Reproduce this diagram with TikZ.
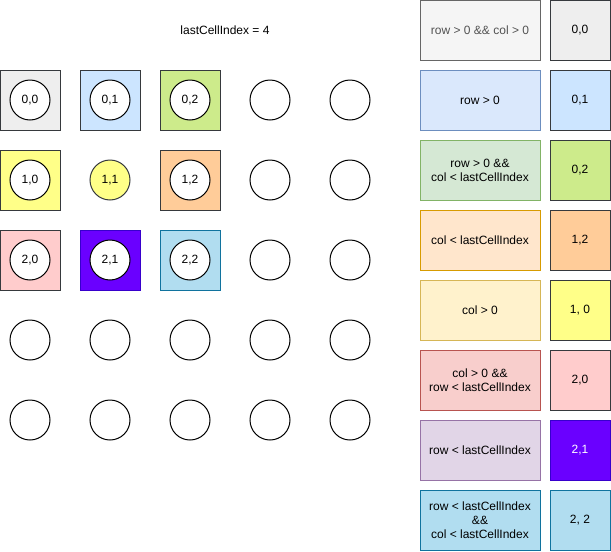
\documentclass[tikz,border=0pt]{standalone}
\usepackage{fontspec}
\setmainfont{Liberation Sans}
\usepackage{tikz}
\usetikzlibrary{positioning}
\usepackage{xcolor}

\definecolor{cellgray}{HTML}{EEEEEE}
\definecolor{cellblue}{HTML}{CCE5FF}
\definecolor{cellgreen}{HTML}{CDEB8B}
\definecolor{cellorange}{HTML}{FFCC99}
\definecolor{cellyellow}{HTML}{FFFF88}
\definecolor{cellred}{HTML}{FFCCCC}
\definecolor{cellviolet}{HTML}{6A00FF}
\definecolor{cellviodraw}{HTML}{3700CC}
\definecolor{cellcyan}{HTML}{B1DDF0}
\definecolor{cellcyandraw}{HTML}{10739E}
\definecolor{celldraw}{HTML}{36393D}
\definecolor{condgray}{HTML}{F5F5F5}
\definecolor{condgraydraw}{HTML}{666666}
\definecolor{condblue}{HTML}{DAE8FC}
\definecolor{condbluedraw}{HTML}{6C8EBF}
\definecolor{condgreen}{HTML}{D5E8D4}
\definecolor{condgreendraw}{HTML}{82B366}
\definecolor{condorange}{HTML}{FFE6CC}
\definecolor{condorangedraw}{HTML}{D79B00}
\definecolor{condyellow}{HTML}{FFF2CC}
\definecolor{condyellowdraw}{HTML}{D6B656}
\definecolor{condred}{HTML}{F8CECC}
\definecolor{condreddraw}{HTML}{B85450}
\definecolor{condviolet}{HTML}{E1D5E7}
\definecolor{condvioletdraw}{HTML}{9673A6}

\begin{document}
\begin{tikzpicture}[
        x=1pt, y=-1pt,
        cell/.style={rectangle, draw=celldraw, line width=1pt, minimum size=60pt, inner sep=0pt},
        dot/.style={circle, draw=black, line width=1pt, fill=white, minimum size=40pt, inner sep=0pt, font=\fontsize{12}{14}\selectfont},
        cond/.style={rectangle, draw, line width=1pt, minimum width=120pt, minimum height=60pt, align=center, inner sep=0pt, outer sep=0pt, font=\fontsize{12}{14}\selectfont},
        key/.style={rectangle, draw=celldraw, line width=1pt, minimum size=60pt, inner sep=0pt, outer sep=0pt, font=\fontsize{12}{14}\selectfont},
    ]
        \useasboundingbox (0,0) rectangle (611,552);

        % Title
        \node[font=\fontsize{12}{14}\selectfont] (title) at (225,30) {lastCellIndex = 4};

        % Coloured cells of the grid
        \node[cell, fill=cellgray] (sq00) at (30,100) {};
        \node[cell, fill=cellblue] (sq01) at (110,100) {};
        \node[cell, fill=cellgreen] (sq02) at (190,100) {};
        \node[cell, fill=cellyellow] (sq10) at (30,180) {};
        \node[cell, fill=cellorange] (sq12) at (190,180) {};
        \node[cell, fill=cellred] (sq20) at (30,260) {};
        \node[cell, fill=cellviolet, draw=cellviodraw] (sq21) at (110,260) {};
        \node[cell, fill=cellcyan, draw=cellcyandraw] (sq22) at (190,260) {};

        % Labelled circles
        \node[dot] (c00) at (sq00) {0,0};
        \node[dot] (c01) at (sq01) {0,1};
        \node[dot] (c02) at (sq02) {0,2};
        \node[dot] (c10) at (sq10) {1,0};
        \node[dot, fill=cellyellow, draw=celldraw] (c11) at (110,180) {1,1};
        \node[dot] (c12) at (sq12) {1,2};
        \node[dot] (c20) at (sq20) {2,0};
        \node[dot] (c21) at (sq21) {2,1};
        \node[dot] (c22) at (sq22) {2,2};

        % Empty circles
        \foreach \r in {0,1,2} {
            \foreach \c in {3,4} {
                \node[dot] (c\r\c) at (30+80*\c, 100+80*\r) {};
            }
        }
        \foreach \r in {3,4} {
            \foreach \c in {0,...,4} {
                \node[dot] (c\r\c) at (30+80*\c, 100+80*\r) {};
            }
        }

        % Conditions
        \node[cond, fill=condgray, draw=condgraydraw, text=condgraydraw!80!black] (cond00) at (480,30) {row > 0 \&\& col > 0};
        \node[cond, fill=condblue, draw=condbluedraw] (cond01) at (480,100) {row > 0};
        \node[cond, fill=condgreen, draw=condgreendraw] (cond02) at (480,170) {row > 0 \&\&\\col < lastCellIndex};
        \node[cond, fill=condorange, draw=condorangedraw] (cond12) at (480,240) {col < lastCellIndex};
        \node[cond, fill=condyellow, draw=condyellowdraw] (cond10) at (480,310) {col > 0};
        \node[cond, fill=condred, draw=condreddraw] (cond20) at (480,380) {col > 0 \&\&\\row < lastCellIndex};
        \node[cond, fill=condviolet, draw=condvioletdraw] (cond21) at (480,450) {row < lastCellIndex};
        \node[cond, fill=cellcyan, draw=cellcyandraw] (cond22) at (480,520) {row < lastCellIndex\\\&\&\\col < lastCellIndex};

        % Cell keys
        \node[key, fill=cellgray, right=10pt of cond00] (key00) {0,0};
        \node[key, fill=cellblue, right=10pt of cond01] (key01) {0,1};
        \node[key, fill=cellgreen, right=10pt of cond02] (key02) {0,2};
        \node[key, fill=cellorange, right=10pt of cond12] (key12) {1,2};
        \node[key, fill=cellyellow, right=10pt of cond10] (key10) {1, 0};
        \node[key, fill=cellred, right=10pt of cond20] (key20) {2,0};
        \node[key, fill=cellviolet, draw=cellviodraw, text=white, right=10pt of cond21] (key21) {2,1};
        \node[key, fill=cellcyan, draw=cellcyandraw, right=10pt of cond22] (key22) {2, 2};
    \end{tikzpicture}
\end{document}
